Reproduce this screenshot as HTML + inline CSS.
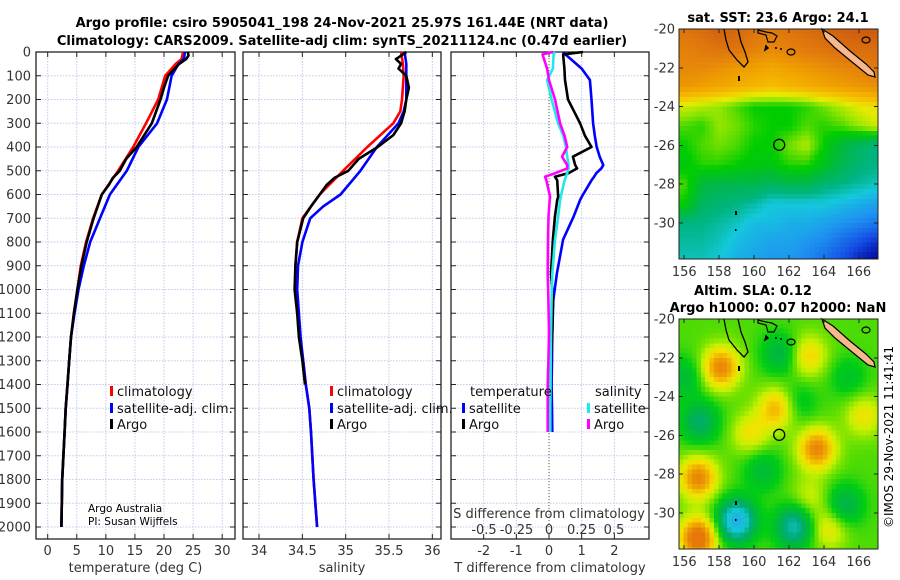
<!DOCTYPE html>
<html><head><meta charset="utf-8"><style>
html,body{margin:0;padding:0;background:#fff;}
svg{display:block;font-family:"DejaVu Sans","Liberation Sans",sans-serif;}
</style></head><body>
<svg id="fig" width="900" height="580" viewBox="0 0 900 580" xmlns="http://www.w3.org/2000/svg">
<text x="342" y="27" font-size="13" font-weight="bold" text-anchor="middle">Argo profile: csiro 5905041_198 24-Nov-2021 25.97S 161.44E (NRT data)</text>
<text x="342" y="45" font-size="13" font-weight="bold" text-anchor="middle">Climatology: CARS2009. Satellite-adj clim: synTS_20211124.nc (0.47d earlier)</text>
<g id="plots"></g>
<text x="778" y="22" font-size="13" font-weight="bold" text-anchor="middle">sat. SST: 23.6 Argo: 24.1</text>
<text x="753" y="295" font-size="13" font-weight="bold" text-anchor="middle">Altim. SLA: 0.12</text>
<text x="778" y="312" font-size="13" font-weight="bold" text-anchor="middle">Argo h1000: 0.07 h2000: NaN</text>
<text x="0" y="0" font-size="12" text-anchor="middle" transform="translate(893,437) rotate(-90)">©IMOS 29-Nov-2021 11:41:41</text>
<text x="88" y="512" font-size="10.5">Argo Australia</text>
<text x="88" y="525" font-size="10.5">PI: Susan Wijffels</text>
</svg>
<script>
// ---------- profile data ----------
const tDepth = [0,30,50,100,150,200,300,400,500,600,700,800,900,1000,1100,1200,1300,1400,1500,1600,1800,2000];
const tClim  = [23.3,23.0,22.0,20.2,19.6,19.0,16.9,14.7,12.1,9.3,7.8,6.6,5.7,5.1,4.5,4.0,3.7,3.4,3.1,2.9,2.5,2.35];
const tSat   = [23.6,23.4,22.5,21.3,20.9,20.5,18.8,15.6,13.6,10.7,9.0,7.3,6.2,5.3,4.6,4.0,3.7,3.4,3.1,2.9,2.5,2.35];
const argoTDepth = [0,15,30,50,100,150,200,300,400,450,500,530,560,600,700,800,900,1000,1100,1200,1300,1400,1500,1600,1800,2000];
const argoT      = [24.1,24.2,23.8,22.6,20.7,20.0,19.4,17.9,15.3,13.5,12.4,11.2,10.5,9.3,7.9,6.7,5.8,5.1,4.5,4.0,3.7,3.4,3.1,2.9,2.5,2.35];
const sDepth = [0,50,100,200,250,300,400,500,600,650,700,800,900,1000,1100,1200,1300,1400,1500,1600,1800,2000];
const sClim  = [35.64,35.66,35.67,35.65,35.63,35.55,35.25,34.97,34.70,34.60,34.50,34.44,34.42,34.42,34.45,34.47,34.51,34.54,34.58,34.60,34.63,34.67];
const sSat   = [35.68,35.70,35.70,35.70,35.67,35.61,35.36,35.17,34.94,34.74,34.59,34.50,34.45,34.44,34.46,34.48,34.51,34.54,34.58,34.60,34.63,34.67];
const argoSDepth = [0,20,30,50,70,100,150,200,250,300,350,400,450,500,530,560,600,650,700,800,900,1000,1100,1200,1300,1400];
const argoS      = [35.70,35.62,35.58,35.64,35.61,35.70,35.73,35.70,35.68,35.64,35.55,35.37,35.15,35.03,34.87,34.78,34.70,34.60,34.51,34.44,34.42,34.41,34.44,34.46,34.50,34.53];
// differences from climatology
const dDepth = [0,10,70,118,200,300,353,400,441,476,490,510,525,540,610,623,694,790,932,1044,1183,1300,1400,1500,1600];
const dTSat  = [0.43,0.5,1.0,1.25,1.3,1.35,1.4,1.46,1.55,1.66,1.6,1.45,1.38,1.3,1.0,0.95,0.75,0.43,0.24,0.13,0.1,0.09,0.08,0.09,0.1];
const dTArgo = [1.04,0.43,0.47,0.49,0.58,0.95,1.1,1.3,0.73,0.8,0.86,0.6,0.18,0.25,0.28,0.25,0.18,0.12,0.06,0.12,0.1,0.06,0.05,0.04,0.03];
const dSArgo = [0.03,-0.05,-0.015,0.0,0.046,0.085,0.12,0.14,0.10,0.14,0.14,0.05,-0.03,-0.02,0.008,0.005,-0.004,-0.008,-0.01,-0.005,0.0,-0.005,-0.01,-0.01,-0.01];
const dSSat  = [0.046,0.035,0.03,-0.015,0.02,0.07,0.11,0.13,0.14,0.15,0.15,0.14,0.13,0.12,0.09,0.085,0.07,0.046,0.025,0.02,0.015,0.013,0.012,0.01,0.01];
const depthTicks = [0,100,200,300,400,500,600,700,800,900,1000,1100,1200,1300,1400,1500,1600,1700,1800,1900,2000];
const tempTicks = [0,5,10,15,20,25,30];
const salTicks = [34,34.5,35,35.5,36];
const salTickLabels = ["34","34.5","35","35.5","36"];
const dTTicks = [-2,-1,0,1,2];
const dSTicks = [-0.5,-0.25,0,0.25,0.5];
const dSTickLabels = ["-0.5","-0.25","0","0.25","0.5"];

// ---------- map data ----------
const sstLats = [-20,-21,-22,-23,-24,-25,-26,-27,-28,-29,-30,-31,-32];
const sstLons = [156,157,158,159,160,161,162,163,164,165,166,167];
const sstRows = [
[25.5,25.6,25.8,25.7,25.5,25.4,25.5,25.6,25.7,25.8,25.9,25.9],
[25.3,25.4,25.5,25.5,25.3,25.2,25.3,25.4,25.5,25.6,25.6,25.6],
[25.2,25.2,25.1,25.0,24.9,24.8,24.9,25.0,25.1,25.2,25.3,25.4],
[25.0,24.9,24.8,24.7,24.6,24.5,24.6,24.7,24.8,24.9,25.0,25.1],
[24.0,23.9,23.8,23.6,23.4,23.4,23.4,23.5,23.7,23.9,24.1,24.2],
[23.6,23.5,23.8,23.7,23.5,23.4,23.4,23.6,23.5,23.6,23.8,24.0],
[23.4,23.6,23.7,23.6,23.4,23.4,23.7,23.9,23.4,23.0,22.8,22.6],
[23.3,23.5,23.5,23.4,23.3,23.3,23.5,23.5,23.2,22.9,22.7,22.6],
[23.6,23.0,22.9,22.9,22.9,22.8,22.9,22.9,22.7,22.6,22.5,22.4],
[23.4,22.8,22.7,22.6,22.5,22.3,22.3,22.3,22.3,22.2,22.1,22.0],
[22.6,22.6,22.5,22.4,22.2,22.2,22.1,22.1,22.0,21.9,21.8,21.7],
[22.5,22.5,22.4,22.2,22.1,22.0,22.0,21.9,21.8,21.6,21.4,21.2],
[22.4,22.4,22.3,22.1,22.0,21.9,21.9,21.8,21.6,21.4,21.1,20.9]];
const slaBlobLon = [158.1,163.1,161.3,163.6,156.8,156.8,159.8,164.3,166.3,163.2,159.0,162.3,156.9,161.5,156.0,165.2,162.5,160.5,165.4];
const slaBlobLat = [-22.5,-21.9,-24.6,-26.7,-28.2,-31.3,-25.9,-30.8,-25.0,-29.2,-30.4,-30.7,-25.3,-21.8,-23.0,-29.6,-24.3,-27.8,-23.0];
const slaBlobAmp = [0.19,0.11,0.14,0.19,0.19,0.24,0.09,0.09,0.09,0.06,-0.28,-0.19,-0.13,-0.10,-0.08,-0.11,-0.06,-0.08,-0.06];
const lonTicks = [156,158,160,162,164,166];
const latTicks = [-20,-22,-24,-26,-28,-30];
const argoLon = 161.44, argoLat = -25.97;

const NS="http://www.w3.org/2000/svg";
const root=document.getElementById('plots');
function el(tag,attrs,parent){const e=document.createElementNS(NS,tag);for(const k in attrs)e.setAttribute(k,attrs[k]);(parent||root).appendChild(e);return e;}
function txt(s,attrs,parent){const e=el('text',attrs,parent);e.textContent=s;return e;}

const Y0=52, DPX=0.2375;
function yD(d){return Y0+d*DPX;}
const BOT=539;
function mkX(x0,x1,vmin,vmax){return v=>x0+(v-vmin)/(vmax-vmin)*(x1-x0);}

const panels=[
 {name:'temperature-panel',x0:36,x1:235,vmin:-2.01,vmax:32.2,ticks:tempTicks,labels:tempTicks.map(String),xlabel:'temperature (deg C)'},
 {name:'salinity-panel',x0:243,x1:441,vmin:33.815,vmax:36.10,ticks:salTicks,labels:salTickLabels,xlabel:'salinity'},
 {name:'difference-panel',x0:451,x1:649,vmin:-3.0,vmax:3.06,ticks:dTTicks,labels:dTTicks.map(String),xlabel:'T difference from climatology'}
];
panels.forEach((p,pi)=>{
 const g=el('g',{});
 
 
 const X=mkX(p.x0,p.x1,p.vmin,p.vmax); p.X=X;
 depthTicks.forEach(d=>{const l=el('line',{x1:p.x0,x2:p.x1,y1:yD(d),y2:yD(d),stroke:'#c4c8ec','stroke-width':1,'stroke-dasharray':'1.5,1.5'},g);
   
   });
 p.ticks.forEach(v=>{const l=el('line',{x1:X(v),x2:X(v),y1:Y0,y2:BOT,stroke:'#c4c8ec','stroke-width':1,'stroke-dasharray':'1.5,1.5'},g);
   
   });
 const b=el('rect',{x:p.x0,y:Y0,width:p.x1-p.x0,height:BOT-Y0,fill:'none',stroke:'#222','stroke-width':1.3},g);
 
 
 depthTicks.forEach(d=>{
   el('line',{x1:p.x0,x2:p.x0+5,y1:yD(d),y2:yD(d),stroke:'#222'},g);
   el('line',{x1:p.x1-5,x2:p.x1,y1:yD(d),y2:yD(d),stroke:'#222'},g);
   if(pi===0){const t=txt(String(d),{x:31,y:yD(d)+4.5,'font-size':13,'text-anchor':'end',fill:'#333'},g);
     
     }
 });
 p.ticks.forEach((v,i)=>{
   el('line',{x1:X(v),x2:X(v),y1:BOT,y2:BOT-5,stroke:'#222'},g);
   el('line',{x1:X(v),x2:X(v),y1:Y0,y2:Y0+5,stroke:'#222'},g);
   const t=txt(p.labels[i],{x:X(v),y:555,'font-size':13,'text-anchor':'middle',fill:'#333'},g);
   
   
 });
 const xl=txt(p.xlabel,{x:(p.x0+p.x1)/2,y:572,'font-size':13,'text-anchor':'middle',fill:'#333'},g);
 
 
});
function series(X,depths,vals,color,name,w){
 const pts=depths.map((d,i)=>X(vals[i]).toFixed(1)+','+yD(d).toFixed(1)).join(' ');
 const l=el('polyline',{points:pts,fill:'none',stroke:color,'stroke-width':w||2.6,'stroke-linejoin':'round'});
 
 
}
const P1=panels[0].X,P2=panels[1].X,P3=panels[2].X;
const zl=el('line',{x1:P3(0),x2:P3(0),y1:Y0,y2:yD(2000),stroke:'#556b2f','stroke-width':1,'stroke-dasharray':'1,2'});


series(P1,tDepth,tClim,'#ff0000','temperature-climatology-line');
series(P1,tDepth,tSat,'#0000ff','temperature-satellite-line');
series(P1,argoTDepth,argoT,'#000000','temperature-argo-line');
series(P2,sDepth,sClim,'#ff0000','salinity-climatology-line');
series(P2,sDepth,sSat,'#0000ff','salinity-satellite-line');
series(P2,argoSDepth,argoS,'#000000','salinity-argo-line');
const SX=v=>P3(0)+v*130;
series(P3,dDepth,dTSat,'#0000ff','t-diff-satellite-line');
series(P3,dDepth,dTArgo,'#000000','t-diff-argo-line');
series(SX,dDepth,dSSat,'#22e8e8','s-diff-satellite-line');
series(SX,dDepth,dSArgo,'#ff00ff','s-diff-argo-line');
const sl=txt('S difference from climatology',{x:549,y:518,'font-size':13,'text-anchor':'middle',fill:'#333'});


dSTicks.forEach((v,i)=>{const t=txt(dSTickLabels[i],{x:SX(v),y:534,'font-size':13,'text-anchor':'middle',fill:'#333'});
 
 });
function legend(x,y,color,label,name){
 const g=el('g',{});
 
 
 el('rect',{x:x,y:y-10,width:3,height:10,fill:color},g);
 txt(label,{x:x+7,y:y,'font-size':13,fill:'#111'},g);
}
legend(110,396,'#ff0000','climatology','legend-climatology');
legend(110,413,'#0000ff','satellite-adj. clim.','legend-satellite-adj');
legend(110,429,'#000000','Argo','legend-argo');
legend(330,396,'#ff0000','climatology','legend-climatology-sal');
legend(330,413,'#0000ff','satellite-adj. clim.','legend-satellite-adj-sal');
legend(330,429,'#000000','Argo','legend-argo-sal');
const lt=txt('temperature',{x:470,y:396,'font-size':13,fill:'#111'});


const ls=txt('salinity',{x:595,y:396,'font-size':13,fill:'#111'});


legend(462,413,'#0000ff','satellite','legend-t-satellite');
legend(462,429,'#000000','Argo','legend-t-argo');
legend(587,413,'#22e8e8','satellite','legend-s-satellite');
legend(587,429,'#ff00ff','Argo','legend-s-argo');

// ---------- maps ----------
function lerpC(stops,v){
 if(v<=stops[0][0])return stops[0][1];
 for(let i=1;i<stops.length;i++){if(v<=stops[i][0]){const a=stops[i-1],b=stops[i],t=(v-a[0])/(b[0]-a[0]);
   return a[1].map((c,k)=>Math.round(c+(b[1][k]-c)*t));}}
 return stops[stops.length-1][1];
}
const sstCmap=[[20.9,[0,0,150]],[21.4,[20,80,230]],[21.9,[30,150,240]],[22.3,[20,200,220]],[22.6,[0,180,130]],[23.0,[0,185,60]],[23.4,[0,205,0]],[23.8,[150,230,0]],[24.1,[230,235,0]],[24.5,[245,190,0]],[24.9,[240,160,0]],[25.3,[228,128,12]],[25.9,[205,90,15]]];
const slaCmap=[[-0.3,[40,160,240]],[-0.2,[20,200,210]],[-0.13,[0,170,120]],[-0.07,[0,185,60]],[-0.02,[0,205,20]],[0.03,[110,225,0]],[0.07,[200,240,0]],[0.11,[245,225,0]],[0.16,[240,170,0]],[0.22,[230,120,10]]];
const MX0=679,MX1=878,LON0=155.7,LON1=167.1;
function lonX(l){return MX0+(l-LON0)/(LON1-LON0)*(MX1-MX0);}
function mkLatY(top){return lat=>top+(-20-lat)*19.4;}
function sstAt(lon,lat){
 let fi=(-20-lat), fj=(lon-156);
 fi=Math.max(0,Math.min(12,fi)); fj=Math.max(0,Math.min(11,fj));
 const i0=Math.min(11,Math.floor(fi)), j0=Math.min(10,Math.floor(fj)), ti=fi-i0, tj=fj-j0;
 const a=sstRows[i0][j0],b=sstRows[i0][j0+1],c=sstRows[i0+1][j0],d=sstRows[i0+1][j0+1];
 return a*(1-ti)*(1-tj)+b*(1-ti)*tj+c*ti*(1-tj)+d*ti*tj;
}
function slaAt(lon,lat){
 let s=0.015;
 for(let k=0;k<slaBlobLon.length;k++){const dx=lon-slaBlobLon[k],dy=lat-slaBlobLat[k];s+=slaBlobAmp[k]*Math.exp(-(dx*dx+dy*dy)/(2*0.75*0.75));}
 return s;
}
function drawMap(top,bottom,fn,cmap,name,step){
 const g=el('g',{'shape-rendering':'crispEdges'});
 
 
 const LY=mkLatY(top);
 const latBot=-20-(bottom-top)/19.4;
 for(let lat=-20;lat>latBot;lat-=step){
  for(let lon=LON0;lon<LON1;lon+=step){
   const v=fn(lon+step/2,lat-step/2); const c=lerpC(cmap,v);
   const x=lonX(lon),y=LY(lat),w=lonX(lon+step)-x+0.6,h=Math.min(bottom,LY(lat-step))-y+0.6;
   const r=el('rect',{x:x.toFixed(1),y:y.toFixed(1),width:Math.min(w,MX1-x).toFixed(1),height:h.toFixed(1),fill:'rgb('+c.join(',')+')'},g);
   
   
  }
 }
 const cg=el('g',{'shape-rendering':'auto',transform:'translate(0,'+(top-29)+')'},g);
 el('path',{d:'M724,29 L726,40 L729,50 L737,60 L744,67 L748,62 L745,52 L741,42 L738,29',fill:'none',stroke:'#000','stroke-width':1.3},cg);
 el('path',{d:'M758,30 L766,32 L772,33 L777,36 L774,42 L768,42 L766,35 L758,33 Z',fill:'none',stroke:'#000','stroke-width':1.2},cg);
 el('path',{d:'M765,50 L766,46 L768,48 Z',fill:'none',stroke:'#000','stroke-width':1.5},cg);
 el('ellipse',{cx:791,cy:52,rx:4,ry:3,fill:'none',stroke:'#000','stroke-width':1.2},cg);
 el('circle',{cx:776,cy:48,r:1,fill:'#000'},cg);el('circle',{cx:781,cy:49,r:1,fill:'#000'},cg);
 el('rect',{x:738,y:76,width:2,height:5,fill:'#000'},cg);
 el('path',{d:'M822,29 L833,36 L850,51 L866,64 L874,72 L875,77 L868,75 L852,62 L835,48 L825,38 Z',fill:'#f7b98b',stroke:'#000','stroke-width':1.2},cg);
 el('ellipse',{cx:866,cy:40,rx:4,ry:3,fill:'none',stroke:'#000','stroke-width':1.2},cg);
 el('rect',{x:735,y:211,width:2,height:4,fill:'#000'},cg);
 el('rect',{x:735,y:229,width:1.5,height:2,fill:'#000'},cg);
 const ad=el('circle',{cx:lonX(argoLon),cy:LY(argoLat),r:5.5,fill:'none',stroke:'#000','stroke-width':1.3,'shape-rendering':'auto'},g);
 
 
 el('rect',{x:MX0,y:top,width:MX1-MX0,height:bottom-top,fill:'none',stroke:'#222','stroke-width':1.2},g);
 latTicks.forEach(l=>{const y=LY(l);el('line',{x1:MX0,x2:MX0+4,y1:y,y2:y,stroke:'#222'},g);el('line',{x1:MX1-4,x2:MX1,y1:y,y2:y,stroke:'#222'},g);
   const t=txt(String(l),{x:MX0-4,y:y+4.5,'font-size':13,'text-anchor':'end',fill:'#333'},g);
   
   });
 lonTicks.forEach(l=>{const x=lonX(l);el('line',{x1:x,x2:x,y1:bottom,y2:bottom-4,stroke:'#222'},g);el('line',{x1:x,x2:x,y1:top,y2:top+4,stroke:'#222'},g);
   const t=txt(String(l),{x:x,y:bottom+17,'font-size':13,'text-anchor':'middle',fill:'#333'},g);
   
   });
}
drawMap(29,259,sstAt,sstCmap,'sst-map',0.25);
drawMap(319,549,slaAt,slaCmap,'sla-map',0.25);
</script>
</body></html>
